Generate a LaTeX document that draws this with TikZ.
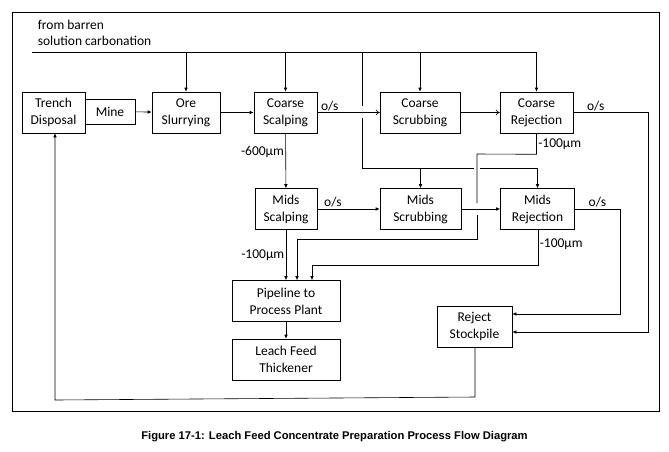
\documentclass[tikz,border=0pt]{standalone}
\usepackage{fontspec}
\setmainfont{Carlito}
\newfontfamily\capfont{Liberation Sans}
\usetikzlibrary{arrows.meta}
\tikzset{
  blk/.style={draw, align=center, inner sep=0pt, minimum height=41pt, font=\fontsize{13.5}{17}\selectfont},
  flow/.style={-{Latex[length=4pt,width=3.5pt]}},
  oflow/.style={-{To[length=4pt,width=6pt]}},
  lbl/.style={font=\fontsize{13.5}{16}\selectfont, inner sep=1.5pt}
}
\begin{document}
\begin{tikzpicture}[x=1pt,y=-1pt,line width=0.6pt]
\useasboundingbox (0,0) rectangle (669,451);
\draw (12,12) rectangle (659,411);
\node[lbl,anchor=west,align=left] (feedtxt) at (36,33) {from barren\\solution carbonation};
% boxes
\node[blk,minimum width=63pt] (trench) at (53.5,112.5) {Trench\\Disposal};
\node[blk,minimum width=50pt,minimum height=25pt] (mine) at (110,111.5) {Mine};
\node[blk,minimum width=68pt] (ore) at (186,112.5) {Ore\\Slurrying};
\node[blk,minimum width=63pt] (cscalp) at (285.5,112.5) {Coarse\\Scalping};
\node[blk,minimum width=80pt] (cscrub) at (420,112.5) {Coarse\\Scrubbing};
\node[blk,minimum width=73pt] (crej) at (536.5,112.5) {Coarse\\Rejection};
\node[blk,minimum width=62pt] (mscalp) at (286,209) {Mids\\Scalping};
\node[blk,minimum width=81pt] (mscrub) at (420.5,209) {Mids\\Scrubbing};
\node[blk,minimum width=74pt] (mrej) at (537.5,209) {Mids\\Rejection};
\node[blk,minimum width=108pt] (pipe) at (286,301) {Pipeline to\\Process Plant};
\node[blk,minimum width=108pt] (leach) at (286,359.5) {Leach Feed\\Thickener};
\node[blk,minimum width=75pt] (stock) at (474.5,326.5) {Reject\\Stockpile};
% feed line
\coordinate (fa) at (32,52);
\coordinate (fb) at (536.5,52);
\draw (fa) -- (fb);
\foreach \n in {ore,cscalp,cscrub,crej}
  \draw[flow] (\n.north |- fa) -- (\n.north);
\draw (362,52) -- (362,106) (362,118) -- (362,168) -- (474,168) (480,168) -- (537.5,168);
\draw[flow] (mscrub.north |- 0,168) -- (mscrub.north);
\draw[flow] (mrej.north |- 0,168) -- (mrej.north);
% main flow
\draw[flow] (mine) -- (ore);
\draw[flow] (ore) -- (cscalp);
\draw[oflow] (cscalp) -- node[lbl,above,pos=0.2] {o/s} (cscrub);
\draw[oflow] (cscrub) -- (crej);
\draw[flow] (cscalp) -- node[lbl,left,pos=0.35] {-600µm} (mscalp);
\draw[flow] (mscalp) -- node[lbl,above,pos=0.25] {o/s} (mscrub);
\draw[flow] (mscrub) -- (mrej);
% fines to pipeline
\draw[flow] (mscalp) -- node[lbl,left,pos=0.5] {-100µm} (pipe.north -| mscalp);
\draw (crej.south) -- node[lbl,right,pos=0.5] {-100µm} ++(0,21) -- (477,154) -- (477,203);
\draw[flow] (477,215) -- (477,239) -- (297,239) -- (pipe.north -| 297,0);
\draw[flow] (mrej.south -| 538,0) -- node[lbl,right,pos=0.4] {-100µm} (538,265) -- (312,265) -- (pipe.north -| 312,0);
\draw[flow] (pipe) -- (leach);
% rejects
\draw[flow] (mrej.east) -- node[lbl,above,pos=0.5] {o/s} (620,209) -- (620,314) -- (stock.east |- 0,314);
\draw[flow] (crej.east) -- node[lbl,above,pos=0.3] {o/s} (648,112.5) -- (648,332) -- (stock.east |- 0,332);
\draw[flow] (stock.south -| 475,0) -- (475,397) -- (55,400) -- (trench.south -| 55,0);
\node[font=\capfont\bfseries\fontsize{11.2}{13}\selectfont] (cap) at (334.5,437) {Figure 17-1: Leach Feed Concentrate Preparation Process Flow Diagram};
\end{tikzpicture}
\end{document}
